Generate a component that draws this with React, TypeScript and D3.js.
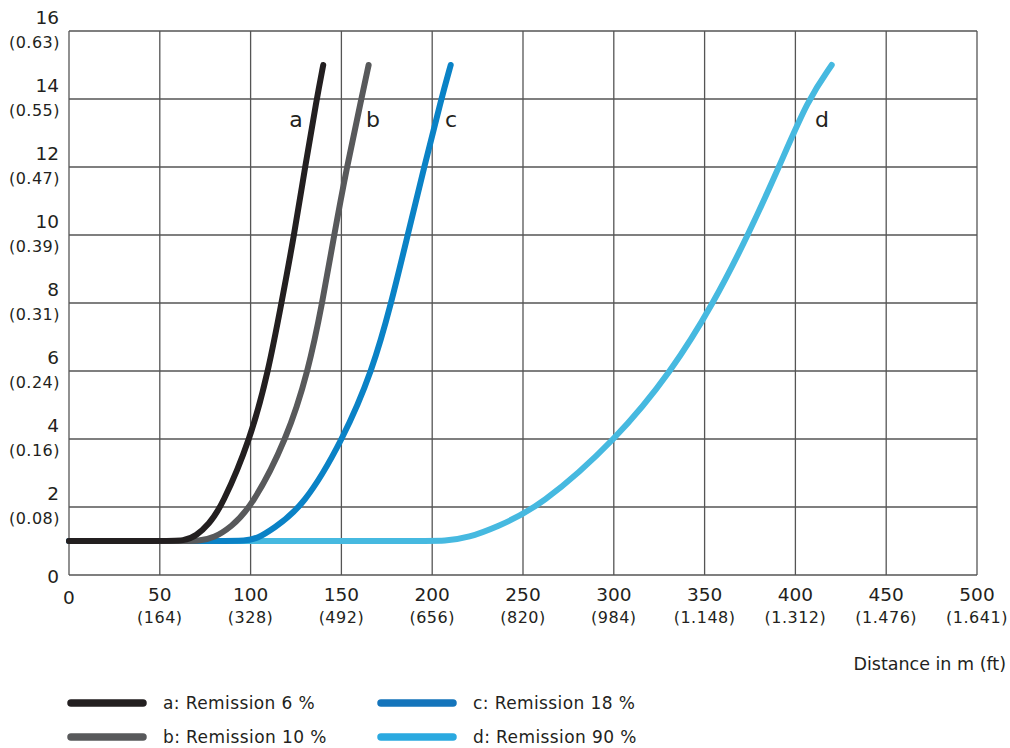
import React from "react";
import * as d3 from "d3";

const yTicks = [0, 2, 4, 6, 8, 10, 12, 14, 16];
const yTickSub = ["", "(0.08)", "(0.16)", "(0.24)", "(0.31)", "(0.39)", "(0.47)", "(0.55)", "(0.63)"];
const xTicks = [0, 50, 100, 150, 200, 250, 300, 350, 400, 450, 500];
const xTickSub = ["", "(164)", "(328)", "(492)", "(656)", "(820)", "(984)", "(1.148)", "(1.312)", "(1.476)", "(1.641)"];

const seriesA: [number, number][] = [[0, 1], [50, 1], [64, 1], [70, 1.15], [77, 1.5], [84, 2], [100, 4], [109.8, 6], [117, 8], [124, 10], [130, 12], [136.4, 14], [140, 15]];
const seriesB: [number, number][] = [[0, 1], [60, 1], [72, 1], [80, 1.1], [89, 1.4], [100.6, 2], [120, 4], [131.8, 6], [139.5, 8], [146, 10], [153, 12], [161, 14], [165, 15]];
const seriesC: [number, number][] = [[0, 1], [85, 1], [97, 1], [104, 1.08], [112, 1.35], [129, 2], [151, 4], [167, 6], [177.5, 8], [186.5, 10], [195.6, 12], [205, 14], [210.2, 15]];
const seriesD: [number, number][] = [[0, 1], [190, 1], [208, 1], [220, 1.1], [235, 1.4], [259.4, 2], [301.6, 4], [331.9, 6], [355, 8], [374, 10], [391, 12], [407, 14], [420, 15]];

const seriesNames = ["a", "b", "c", "d"];
const legendLabels = ["a: Remission 6 %", "b: Remission 10 %", "c: Remission 18 %", "d: Remission 90 %"];
const colors = ["#231f20", "#58595b", "#0a82c6", "#46b9e0"];
const legendColors = ["#231f20", "#58595b", "#1474bb", "#2aa9e0"];
const allSeries = [seriesA, seriesB, seriesC, seriesD];

const W = 1010, H = 748;
const left = 69, right = 977, top = 31, bottom = 575;
const FONT = "'DejaVu Sans', Verdana, sans-serif";

export default function App() {
  const x = d3.scaleLinear().domain([0, 500]).range([left, right]);
  const y = d3.scaleLinear().domain([0, 16]).range([bottom, top]);
  const line = d3.line<[number, number]>().x(d => x(d[0])).y(d => y(d[1])).curve(d3.curveBasis);

  const labelPos = [
    { s: 0, lx: 296, ly: 119 },
    { s: 1, lx: 373, ly: 119 },
    { s: 2, lx: 451, ly: 119 },
    { s: 3, lx: 822, ly: 119 },
  ];

  return (
    <svg width={W} height={H} style={{ position: "absolute", left: 0, top: 0, background: "#fff" }} fontFamily={FONT}>
      {yTicks.map(v => (
        <line key={"gy" + v} x1={left} x2={right} y1={y(v)} y2={y(v)} stroke="#555" strokeWidth={1.3} />
      ))}
      {xTicks.map(v => (
        <line key={"gx" + v} x1={x(v)} x2={x(v)} y1={top} y2={bottom} stroke="#555" strokeWidth={1.3} />
      ))}
      {yTicks.map((v, i) => (
        <g key={"yl" + v}>
          <text x={59} y={v === 0 ? y(v) + 1 : y(v) - 14} textAnchor="end" dominantBaseline="central" fontSize={18.5} fill="#231f20">{v}</text>
          {yTickSub[i] && (
            <text x={60} y={y(v) + 11} textAnchor="end" dominantBaseline="central" fontSize={16} letterSpacing={0.5} fill="#231f20">{yTickSub[i]}</text>
          )}
        </g>
      ))}
      {xTicks.map((v, i) => (
        <g key={"xl" + v}>
          <text x={x(v)} y={v === 0 ? 597 : 594} textAnchor="middle" dominantBaseline="central" fontSize={18.5} fill="#231f20">{v}</text>
          {xTickSub[i] && (
            <text x={x(v)} y={617} textAnchor="middle" dominantBaseline="central" fontSize={16} letterSpacing={0.5} fill="#231f20">{xTickSub[i]}</text>
          )}
        </g>
      ))}
      <text x={1006} y={664} textAnchor="end" dominantBaseline="central" fontSize={17.5} fill="#231f20">Distance in m (ft)</text>
      {[3, 2, 1, 0].map(i => (
        <path key={"s" + i} d={line(allSeries[i]) || ""} fill="none" stroke={colors[i]} strokeWidth={6} strokeLinecap="round" strokeLinejoin="round" />
      ))}
      {labelPos.map(p => (
        <text key={"lab" + p.s} x={p.lx} y={p.ly} textAnchor="middle" dominantBaseline="central" fontSize={22} fill="#231f20">{seriesNames[p.s]}</text>
      ))}
      {legendLabels.map((lab, i) => {
        const col = Math.floor(i / 2);
        const row = i % 2;
        const lx = col === 0 ? 71 : 381;
        const ly = 703 + row * 34;
        return (
          <g key={"lg" + i}>
            <line x1={lx} x2={lx + 72} y1={ly} y2={ly} stroke={legendColors[i]} strokeWidth={7.5} strokeLinecap="round" />
            <text x={lx + 92} y={ly} dominantBaseline="central" fontSize={17} letterSpacing={0.4} fill="#231f20">{lab}</text>
          </g>
        );
      })}
    </svg>
  );
}
